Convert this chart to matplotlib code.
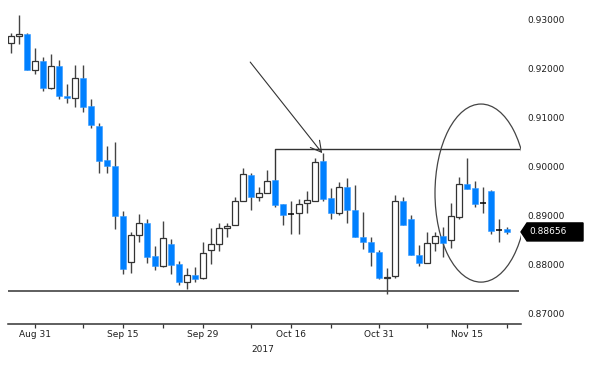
import pandas as pd
import matplotlib
matplotlib.use("Agg")
import matplotlib.pyplot as plt
from matplotlib.patches import Ellipse, Polygon

# daily candles, 2017-08-28 .. 2017-11-22
dates = pd.bdate_range("2017-08-28", periods=63)
opens = [0.92516, 0.92653, 0.92700, 0.91965, 0.92137, 0.91586, 0.92035, 0.91435, 0.91382, 0.91790,
         0.91224, 0.90816, 0.90122, 0.90000, 0.88986, 0.88035, 0.88598, 0.88843, 0.88170, 0.87959,
         0.88408, 0.87994, 0.87639, 0.87776, 0.87708, 0.88286, 0.88402, 0.88729, 0.88796, 0.89286,
         0.89816, 0.89373, 0.89455, 0.89708, 0.89218, 0.89015, 0.89047, 0.89239, 0.89292, 0.90100,
         0.89353, 0.89047, 0.89565, 0.89102, 0.88557, 0.88455, 0.88251, 0.87708, 0.87755, 0.89292,
         0.88912, 0.88184, 0.88027, 0.88435, 0.88571, 0.88490, 0.88965, 0.89627, 0.89545, 0.89246,
         0.89490, 0.88689, 0.88708]
highs = [0.92708, 0.93082, 0.92714, 0.92402, 0.92231, 0.92280, 0.92157, 0.91667, 0.92055, 0.92055,
         0.91361, 0.90871, 0.90408, 0.90496, 0.89088, 0.88660, 0.89014, 0.88924, 0.88373, 0.88884,
         0.88504, 0.88061, 0.87914, 0.87945, 0.88455, 0.88729, 0.88843, 0.88843, 0.89373, 0.89953,
         0.89863, 0.89565, 0.89918, 0.89710, 0.89220, 0.89292, 0.89327, 0.89496, 0.90157, 0.90271,
         0.89545, 0.89680, 0.89749, 0.89612, 0.89055, 0.88557, 0.88286, 0.87912, 0.89408, 0.89373,
         0.89000, 0.88388, 0.88659, 0.88659, 0.88761, 0.89251, 0.89769, 0.90157, 0.89700, 0.89565,
         0.89510, 0.88912, 0.88761]
lows = [0.92312, 0.92500, 0.91955, 0.91878, 0.91531, 0.91565, 0.91361, 0.91280, 0.91210, 0.91108,
        0.90782, 0.89863, 0.89863, 0.88708, 0.87790, 0.87822, 0.88455, 0.88027, 0.87878, 0.87950,
        0.87790, 0.87571, 0.87496, 0.87639, 0.87690, 0.87994, 0.88271, 0.88545, 0.88790, 0.89280,
        0.89102, 0.89286, 0.89443, 0.89169, 0.88796, 0.88612, 0.88612, 0.89047, 0.89290, 0.89286,
        0.88912, 0.89000, 0.88831, 0.88550, 0.88300, 0.87965, 0.87700, 0.87400, 0.87720, 0.88790,
        0.88180, 0.87965, 0.88020, 0.88271, 0.88149, 0.88320, 0.88930, 0.89530, 0.89157, 0.89035,
        0.88612, 0.88455, 0.88612]
closes = [0.92653, 0.92700, 0.91959, 0.92137, 0.91586, 0.92035, 0.91422, 0.91388, 0.91790, 0.91200,
          0.90831, 0.90108, 0.89994, 0.88980, 0.87904, 0.88592, 0.88831, 0.88149, 0.87953, 0.88531,
          0.87980, 0.87639, 0.87769, 0.87700, 0.88218, 0.88408, 0.88741, 0.88782, 0.89292, 0.89831,
          0.89373, 0.89455, 0.89700, 0.89200, 0.89000, 0.89025, 0.89231, 0.89300, 0.90088, 0.89327,
          0.89035, 0.89578, 0.89102, 0.88557, 0.88449, 0.88239, 0.87708, 0.87741, 0.89292, 0.88796,
          0.88184, 0.88027, 0.88429, 0.88571, 0.88435, 0.88980, 0.89627, 0.89531, 0.89224, 0.89256,
          0.88673, 0.88699, 0.88656]
dojis = ["2017-10-16", "2017-11-17", "2017-11-21"]

support = 0.8745
resistance = 0.90347
last_price = 0.88656
tick_days = ["2017-08-31", "2017-09-08", "2017-09-15", "2017-09-22", "2017-09-29", "2017-10-09",
             "2017-10-16", "2017-10-23", "2017-10-31", "2017-11-08", "2017-11-15", "2017-11-22"]
label_days = ["2017-08-31", "2017-09-15", "2017-09-29", "2017-10-16", "2017-10-31", "2017-11-15"]
yticks = [0.87, 0.88, 0.89, 0.90, 0.91, 0.92, 0.93]

blue = "#0080ff"
dark = "#333333"
txt = "#1e1e1e"

fig = plt.figure(figsize=(6, 3.65), dpi=100)
ax = fig.add_axes([8 / 600, 41 / 365, 513 / 600, 324 / 365])

pos = {d: i for i, d in enumerate(dates)}
x = list(range(len(dates)))
doji_idx = [pos[pd.Timestamp(d)] for d in dojis]

ax.vlines(x, lows, highs, color="#444444", lw=1.0, zorder=2)
for i in x:
    o, c = opens[i], closes[i]
    if i in doji_idx:
        ax.hlines(c, i - 0.42, i + 0.42, color="black", lw=1.1, zorder=3)
    elif c >= o:
        ax.bar(i, c - o, bottom=o, width=0.72, facecolor="white", edgecolor=dark, lw=0.9, zorder=3)
    else:
        ax.bar(i, o - c, bottom=c, width=0.85, color=blue, edgecolor="#3399ff", lw=0.4, zorder=3)

# support / resistance
x_top = pos[pd.Timestamp("2017-10-12")]
ax.hlines(support, -0.375, 63.5, color=dark, lw=1.1, zorder=1)
ax.plot([x_top, x_top, 63.5], [highs[x_top], resistance, resistance], color=dark, lw=1.0, zorder=1)

# arrow into the Oct 20 high
x_arr = pos[pd.Timestamp("2017-10-20")]
ax.annotate("", xy=(x_arr - 0.1, 0.90265), xytext=(29.9, 0.92122),
            arrowprops=dict(arrowstyle="->,head_length=0.76,head_width=0.42", color=dark, lw=0.8,
                            shrinkA=0, shrinkB=0, mutation_scale=10))

ax.add_patch(Ellipse((58.75, 0.89449), 11.5, 0.03633, fill=False, ec="#444444", lw=0.9))

ax.set_xlim(-0.375, 63.75)
ax.set_ylim(0.86778, 0.93388)

for s in ["top", "left", "right"]:
    ax.spines[s].set_visible(False)
ax.spines["bottom"].set_color(dark)
ax.spines["bottom"].set_linewidth(1.1)

ax.set_xticks([pos[pd.Timestamp(d)] for d in tick_days])
ax.set_xticklabels([pd.Timestamp(d).strftime("%b %d") if d in label_days else "" for d in tick_days])
ax.tick_params(axis="x", length=3, width=0.9, color=dark, pad=1.5, labelsize=6.5, labelcolor=txt)

ax.yaxis.tick_right()
ax.set_yticks(yticks)
ax.set_yticklabels(["%.5f" % v for v in yticks])
ax.tick_params(axis="y", length=0, pad=4.3, labelsize=6.5, labelcolor=txt)

fig.text(263 / 600, 1 - 350 / 365, "2017", ha="center", va="center", fontsize=6.5, color=txt)

# last price tag
h = 0.00184
tr = ax.get_yaxis_transform()
ax.add_patch(Polygon([(1.0, last_price), (1.0117, last_price + h), (1.1209, last_price + h),
                      (1.1209, last_price - h), (1.0117, last_price - h)],
                     closed=True, fc="black", ec="black", transform=tr, clip_on=False))
ax.text(1.016, last_price, "%.5f" % last_price, transform=tr, color="white", fontsize=6.5,
        va="center", ha="left")

fig.savefig("out.png", dpi=100)
